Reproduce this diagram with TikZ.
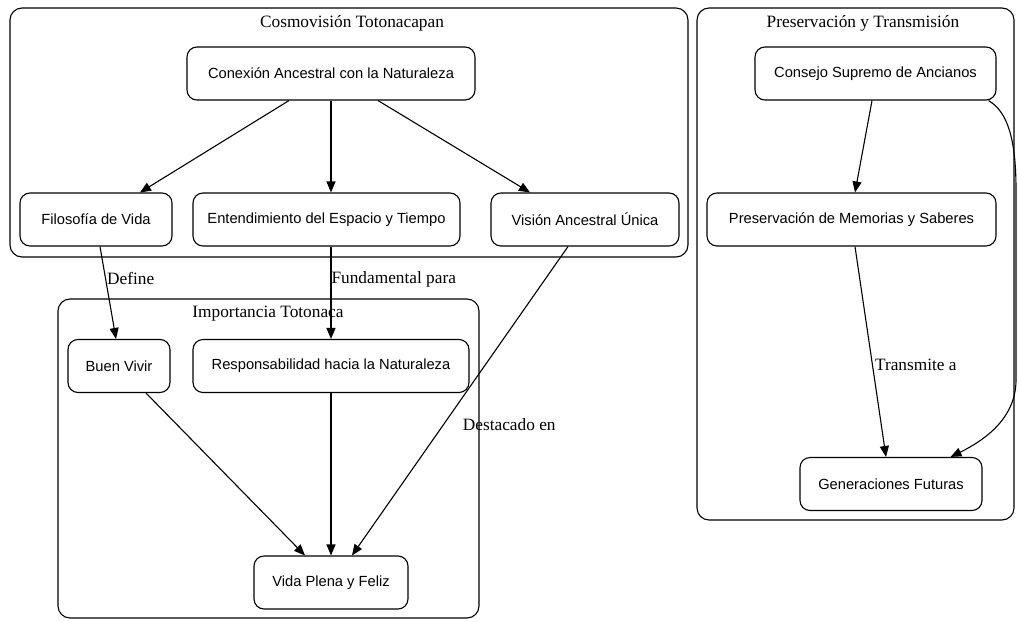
\documentclass[tikz,border=0pt]{standalone}
\usepackage{fontspec}
\setmainfont{Liberation Serif}
\newfontfamily\boxfont{Liberation Sans}
\usetikzlibrary{arrows.meta}

\tikzset{
  box/.style={draw, rounded corners=10pt, line width=1.1pt, inner sep=0pt,
    minimum height=53pt, font=\boxfont\fontsize{14.7}{17}\selectfont},
  cluster/.style={draw, rounded corners=12pt, line width=1.1pt},
  ctitle/.style={font=\fontsize{17.3}{20}\selectfont},
  edge/.style={line width=1.1pt, -{Triangle[length=11pt,width=9pt]}},
  elabel/.style={font=\fontsize{17.3}{20}\selectfont, inner sep=1pt, anchor=west},
}

\begin{document}
\begin{tikzpicture}[x=1pt,y=-1pt]
  \useasboundingbox (0,0) rectangle (1019,621);

  % clusters
  \draw[cluster] (10,8) rectangle (688,257);
  \node[ctitle] (tcosmo) at (352,23) {Cosmovisión Totonacapan};
  \draw[cluster] (58,299) rectangle (479,618);
  \node[ctitle] (timport) at (268,314) {Importancia Totonaca};
  \draw[cluster] (697,8) rectangle (1014,520);
  \node[ctitle] (tpreserv) at (863,23) {Preservación y Transmisión};

  % nodes
  \node[box, minimum width=288pt] (conexion) at (331,73.5) {Conexión Ancestral con la Naturaleza};
  \node[box, minimum width=152pt] (filosofia) at (96,219.5) {Filosofía de Vida};
  \node[box, minimum width=267pt] (entendimiento) at (326.5,219.5) {Entendimiento del Espacio y Tiempo};
  \node[box, minimum width=188pt] (vision) at (585,219.5) {Visión Ancestral Única};
  \node[box, minimum width=102pt] (buenvivir) at (119,366) {Buen Vivir};
  \node[box, minimum width=276pt] (responsabilidad) at (331,366) {Responsabilidad hacia la Naturaleza};
  \node[box, minimum width=154pt] (vidaplena) at (331,582.5) {Vida Plena y Feliz};
  \node[box, minimum width=241pt] (consejo) at (875.5,73.5) {Consejo Supremo de Ancianos};
  \node[box, minimum width=289pt] (memorias) at (851.5,219.5) {Preservación de Memorias y Saberes};
  \node[box, minimum width=182pt] (generaciones) at (891,484) {Generaciones Futuras};

  % edges
  \draw[edge] ([xshift=-42pt]conexion.south) -- ([xshift=44pt]filosofia.north);
  \draw[edge] (conexion.south) -- ([xshift=4.5pt]entendimiento.north);
  \draw[edge] ([xshift=47pt]conexion.south) -- ([xshift=-55pt]vision.north);
  \draw[edge] ([xshift=4pt]filosofia.south) -- node[elabel, pos=0.35] {Define} ([xshift=-3pt]buenvivir.north);
  \draw[edge] ([xshift=4.5pt]entendimiento.south) -- node[elabel, pos=0.35, inner sep=0pt] {Fundamental para} (responsabilidad.north);
  \draw[edge] ([xshift=-17pt]vision.south) -- node[elabel, pos=0.577, xshift=18pt] {Destacado en} ([xshift=21pt]vidaplena.north);
  \draw[edge] ([xshift=27pt]buenvivir.south) -- ([xshift=-26pt]vidaplena.north);
  \draw[edge] (responsabilidad.south) -- (vidaplena.north);
  \draw[edge] ([xshift=-3.5pt]consejo.south) -- ([xshift=3.5pt]memorias.north);
  \draw[edge] ([xshift=3.5pt]memorias.south) -- node[elabel, pos=0.564, inner sep=2pt] {Transmite a} ([xshift=-5pt]generaciones.north);
  \draw[edge] ([xshift=-8pt]consejo.south east) .. controls (1008,112) and (1016,140) .. (1016,190)
    -- (1016,380) .. controls (1016,418) and (985,440) .. ([xshift=-32pt]generaciones.north east);
\end{tikzpicture}
\end{document}
